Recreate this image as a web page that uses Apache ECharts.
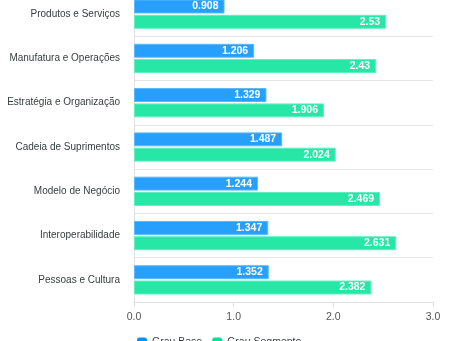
<!DOCTYPE html>
<html>
<head>
<meta charset="utf-8">
<script src="https://cdn.jsdelivr.net/npm/echarts@6/dist/echarts.min.js"></script>
<style>
html,body{margin:0;padding:0;background:#fff;}
#chart{width:454px;height:341px;}
</style>
</head>
<body>
<div id="chart"></div>
<script>
const categories = ['Produtos e Serviços','Manufatura e Operações','Estratégia e Organização','Cadeia de Suprimentos','Modelo de Negócio','Interoperabilidade','Pessoas e Cultura'];
const seriesNames = ['Grau Base','Grau Segmento'];
const grauBase = [0.908,1.206,1.329,1.487,1.244,1.347,1.352];
const grauSegmento = [2.53,2.43,1.906,2.024,2.469,2.631,2.382];
const xTicks = [0,1,2,3];

const chart = echarts.init(document.getElementById('chart'), null, {renderer:'canvas'});
const font = 'Liberation Sans, Arial, Helvetica, sans-serif';
const label = {show:true, position:'insideRight', color:'#fff', fontWeight:'bold', fontSize:10.5, fontFamily:font, distance:6};
chart.setOption({
  animation:false,
  textStyle:{fontFamily:font},
  legend:{
    data:[
      {name:seriesNames[0], itemStyle:{color:'#008FFB', borderWidth:0}},
      {name:seriesNames[1], itemStyle:{color:'#00E396', borderWidth:0}}
    ],
    left:137, top:337, padding:0, itemWidth:10, itemHeight:10, itemGap:10,
    icon:'roundRect',
    textStyle:{fontSize:10.5, color:'#373d3f', fontFamily:font}
  },
  grid:{left:134, right:21, top:-8, bottom:39, containLabel:false, outerBoundsMode:'none'},
  xAxis:{
    type:'value', min:xTicks[0], max:xTicks[xTicks.length-1], interval:1,
    axisLine:{show:true, lineStyle:{color:'#e0e0e0'}},
    axisTick:{show:true, length:5, lineStyle:{color:'#e0e0e0'}},
    splitLine:{show:false},
    axisLabel:{color:'#555', fontSize:10.5, margin:10, formatter:v=>v.toFixed(1)}
  },
  yAxis:{
    type:'category', data:categories, inverse:true,
    axisLine:{show:true, lineStyle:{color:'#e0e0e0'}},
    axisTick:{show:false},
    splitLine:{show:true, lineStyle:{color:'#e6e6e6', width:1}},
    axisLabel:{color:'#373d3f', fontSize:10, margin:14}
  },
  series:[
    {name:seriesNames[0], type:'bar', data:grauBase, barCategoryGap:'34%', barGap:'10%',
     itemStyle:{color:'#26A0FC', borderColor:'#5cb8fd', borderWidth:1}, label:label},
    {name:seriesNames[1], type:'bar', data:grauSegmento,
     itemStyle:{color:'#26E7A6', borderColor:'#5ff0bf', borderWidth:1}, label:label}
  ]
});
</script>
</body>
</html>
